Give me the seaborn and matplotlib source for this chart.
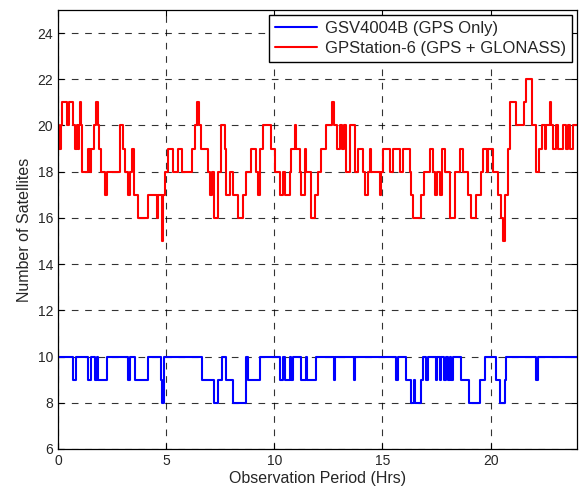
import matplotlib
matplotlib.use('Agg')

import seaborn as sns
import numpy
import matplotlib.pyplot as plt
import pandas

# change points (hours) and satellite counts
gps_hours = [0.0, 0.02, 0.71, 0.82, 1.40, 1.52, 1.71, 1.80, 1.85, 2.26, 3.25, 3.33, 3.56, 4.17,
             4.76, 4.82, 4.88, 6.64, 7.22, 7.41, 7.56, 7.79, 8.09, 8.71, 8.79, 9.33, 10.25,
             10.40, 10.48, 10.71, 10.79, 10.86, 11.25, 11.48, 11.52, 11.94, 12.76, 12.80,
             13.67, 13.71, 15.64, 15.72, 16.08, 16.34, 16.45, 16.52, 16.80, 16.88, 17.00,
             17.11, 17.46, 17.54, 17.65, 17.73, 17.85, 17.93, 18.03, 18.11, 18.19, 18.26,
             18.65, 18.99, 19.50, 19.73, 20.27, 20.42, 20.65, 20.73, 22.11, 22.18, 24.0]
gps_sats = [9, 10, 9, 10, 9, 10, 9, 10, 9, 10, 9, 10, 9, 10,
            9, 8, 10, 9, 8, 9, 10, 9, 8, 10, 9, 10, 9,
            10, 9, 10, 9, 10, 9, 10, 9, 10, 9, 10,
            9, 10, 9, 10, 9, 8, 9, 8, 9, 10, 9,
            10, 9, 10, 9, 10, 9, 10, 9, 10, 9, 10,
            9, 8, 9, 10, 9, 8, 9, 10, 9, 10, 10]

glo_hours = [0.0, 0.05, 0.14, 0.17, 0.40, 0.51, 0.71, 0.79, 0.86, 0.91, 0.97, 1.02, 1.06, 1.12,
             1.40, 1.46, 1.52, 1.68, 1.74, 1.86, 1.91, 1.97, 2.17, 2.26, 2.86, 3.02, 3.10,
             3.22, 3.33, 3.43, 3.53, 3.71, 4.17, 4.56, 4.64, 4.79, 4.87, 4.94, 5.10, 5.33,
             5.56, 5.71, 6.18, 6.33, 6.44, 6.51, 6.59, 6.95, 7.02, 7.10, 7.22, 7.41, 7.53,
             7.72, 7.79, 7.95, 8.09, 8.33, 8.56, 8.68, 8.94, 9.17, 9.25, 9.33, 9.48, 9.87,
             10.02, 10.25, 10.40, 10.48, 10.71, 10.79, 10.94, 11.02, 11.17, 11.25, 11.41,
             11.48, 11.71, 11.87, 12.02, 12.18, 12.41, 12.68, 12.78, 12.90, 13.02, 13.15,
             13.21, 13.33, 13.48, 13.72, 13.87, 14.10, 14.18, 14.33, 14.41, 14.49, 14.87,
             14.95, 15.02, 15.33, 15.49, 15.79, 15.95, 16.26, 16.34, 16.42, 16.80, 16.91,
             17.19, 17.34, 17.42, 17.52, 17.65, 17.77, 17.88, 18.11, 18.34, 18.57, 18.73,
             18.96, 19.11, 19.34, 19.57, 19.65, 19.83, 19.90, 20.11, 20.34, 20.50, 20.57,
             20.67, 20.81, 20.88, 21.19, 21.53, 21.62, 21.93, 22.11, 22.24, 22.39, 22.50,
             22.58, 22.73, 22.81, 22.88, 23.04, 23.12, 23.35, 23.47, 23.58, 23.65, 23.81, 24.0]
glo_sats = [20, 19, 20, 21, 20, 21, 20, 19, 20, 19, 20, 21, 20, 18,
            19, 18, 19, 20, 21, 20, 19, 18, 17, 18, 20, 19, 18,
            17, 18, 19, 17, 16, 17, 16, 17, 15, 17, 18, 19, 18,
            19, 18, 19, 20, 21, 20, 19, 18, 17, 18, 16, 18, 20,
            19, 17, 18, 17, 16, 17, 18, 19, 18, 17, 19, 20, 19,
            18, 17, 18, 17, 18, 19, 20, 19, 18, 17, 19,
            18, 16, 17, 18, 19, 20, 21, 20, 19, 20, 19,
            20, 18, 20, 18, 19, 18, 17, 18, 19, 18, 17,
            18, 19, 18, 19, 18, 19, 18, 17, 16, 17, 18,
            19, 18, 17, 18, 17, 19, 18, 16, 18, 19, 18,
            17, 16, 17, 18, 19, 18, 19, 18, 17, 16, 15,
            17, 19, 21, 20, 21, 22, 20, 18, 19, 20, 19,
            20, 21, 20, 19, 20, 19, 20, 19, 20, 19, 20, 20]

LABEL_GPS = 'GSV4004B (GPS Only)'
LABEL_GLO = 'GPStation-6 (GPS + GLONASS)'

data = pandas.concat([
    pandas.DataFrame({'hours': gps_hours, 'sats': gps_sats, 'receiver': LABEL_GPS}),
    pandas.DataFrame({'hours': glo_hours, 'sats': glo_sats, 'receiver': LABEL_GLO}),
])

sns.set_style('ticks')
plt.rcParams['font.family'] = ['Liberation Sans', 'DejaVu Sans']
plt.rcParams['xtick.direction'] = 'in'
plt.rcParams['ytick.direction'] = 'in'

fig = plt.figure(figsize=(5.8, 4.95), dpi=100)
ax = fig.add_axes([0.1, 0.093, 0.895, 0.887])

g = sns.lineplot(data=data, x='hours', y='sats', hue='receiver', estimator=None, sort=False,
                 palette={LABEL_GPS: '#0000ff', LABEL_GLO: '#ff0000'},
                 drawstyle='steps-post', linewidth=1.5, ax=ax)

ax.set_xlim(0, 24)
ax.set_ylim(6, 25)
ax.set_xticks([0, 5, 10, 15, 20])
ax.set_yticks(numpy.arange(6, 25, 2))
ax.grid(True, color='black', linestyle=(0, (6, 6)), linewidth=0.8, alpha=0.8)
ax.tick_params(axis='both', labelsize=10, top=True, right=True, length=4, width=0.8, color='black')
for s in ax.spines.values():
    s.set_color('black')
    s.set_linewidth(0.9)

ax.set_xlabel('Observation Period (Hrs)', fontsize=11.5, labelpad=2)
ax.set_ylabel('Number of Satellites', fontsize=11.5, labelpad=4)

leg = ax.legend(loc='upper right', fontsize=12, fancybox=False, framealpha=1, edgecolor='black',
                borderaxespad=0.3, handlelength=2.5, handletextpad=0.5, borderpad=0.35,
                labelspacing=0.3)
leg.get_frame().set_linewidth(1.0)

plt.savefig('out.png', dpi=100)
plt.close('all')
